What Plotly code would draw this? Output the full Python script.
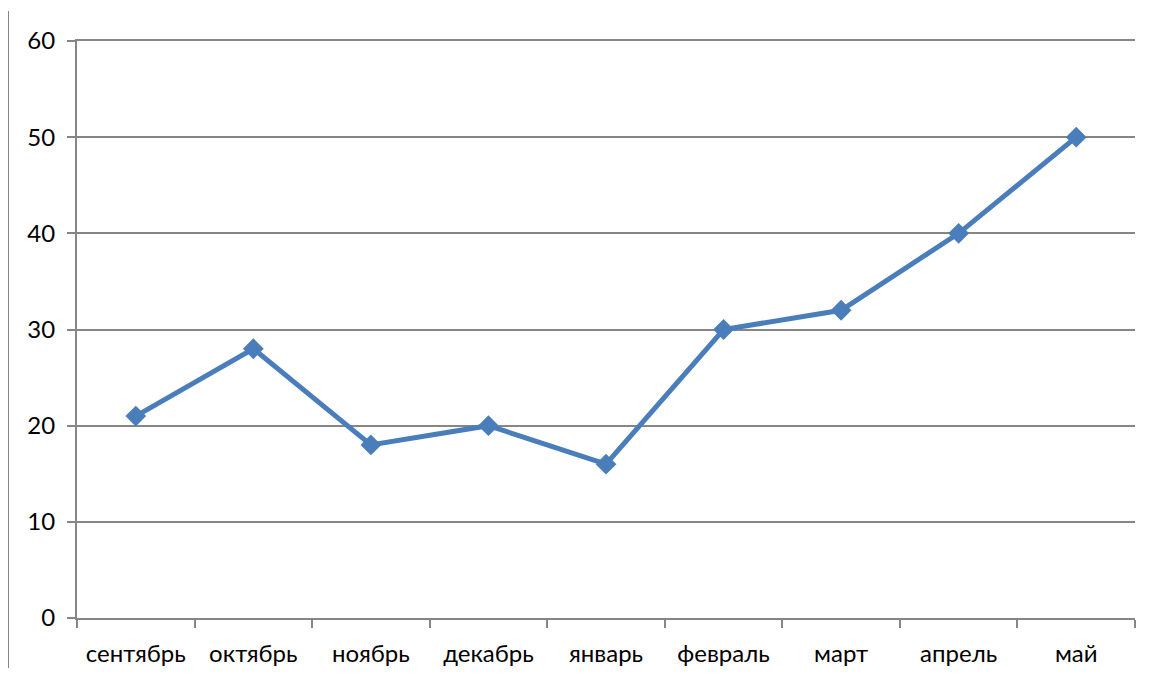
import plotly.graph_objects as go

months = ["сентябрь", "октябрь", "ноябрь", "декабрь", "январь", "февраль", "март", "апрель", "май"]
values = [21, 28, 18, 20, 16, 30, 32, 40, 50]
y_ticks = [0, 10, 20, 30, 40, 50, 60]

x_pos = list(range(len(months)))
boundaries = [i - 0.5 for i in range(len(months) + 1)]

fig = go.Figure()
fig.add_trace(go.Scatter(
    x=x_pos, y=values, mode="lines+markers",
    line=dict(color="#4A7EBB", width=5),
    marker=dict(symbol="diamond", size=16, color="#4A7EBB"),
    showlegend=False,
))

axis_font = dict(family="Lato, Carlito, Liberation Sans, sans-serif", size=24, color="black")

# page has an 8px body margin, so figure coordinates are offset by 8px
W, H = 1134, 660
L, T = 69, 33
R = 1142 - 1135
B = H - (618 - 8)
ph = H - T - B
pw = W - L - R

fig.update_layout(
    width=W, height=H,
    margin=dict(l=L, r=R, t=T, b=B, autoexpand=False),
    paper_bgcolor="white", plot_bgcolor="white",
    xaxis=dict(
        range=[-0.5, len(months) - 0.5], automargin=False,
        tickvals=x_pos, ticktext=months, ticks="",
        tickfont=axis_font, showgrid=False, zeroline=False,
        showline=True, linecolor="#868686", linewidth=2, mirror=True,
        minor=dict(tickvals=boundaries, ticks="outside", ticklen=8, tickcolor="#868686", tickwidth=2, showgrid=False),
        ticklabelstandoff=13,
    ),
    yaxis=dict(
        range=[0, 60], tickvals=y_ticks, ticks="outside", ticklen=8, automargin=False,
        tickcolor="#868686", tickwidth=2,
        tickfont=axis_font, showgrid=True, gridcolor="#868686", gridwidth=1.5,
        zeroline=False, showline=True, linecolor="#868686", linewidth=2,
        ticklabelstandoff=7,
    ),
    shapes=[dict(type="line", xref="paper", yref="paper",
                 x0=-L / pw, x1=-L / pw,
                 y0=(ph + 30) / ph, y1=-(B + 10) / ph,
                 line=dict(color="#868686", width=2))],
)

fig.write_html("out.html")
